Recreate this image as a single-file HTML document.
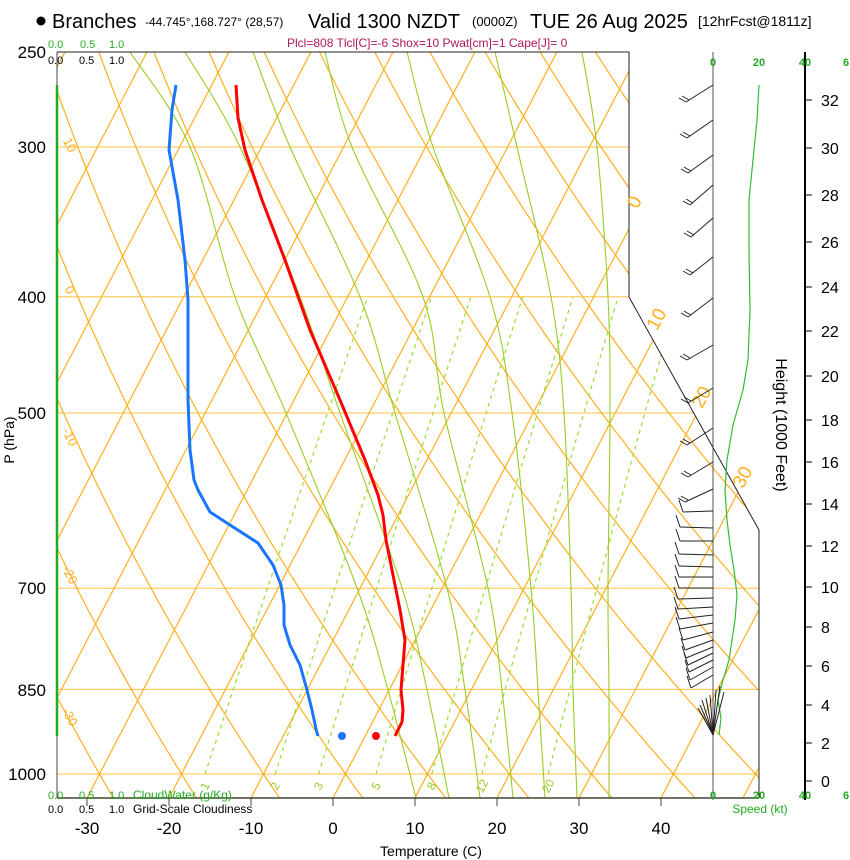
<!DOCTYPE html>
<html><head><meta charset="utf-8"><style>
html,body{margin:0;padding:0;background:#fff;}
svg{display:block;font-family:"Liberation Sans",sans-serif;}
</style></head><body>
<svg id="s" width="850" height="860" viewBox="0 0 850 860" xmlns="http://www.w3.org/2000/svg">
<defs><clipPath id="cp"><polygon points="57,52 629,52 629,297 759,530 759,798 57,798"/></clipPath></defs>
<g id="bg" clip-path="url(#cp)" fill="none"></g>
<g id="fg"></g>
<circle cx="41" cy="21" r="4.5" fill="#000"/>
<text x="52" y="28" font-size="20">Branches</text>
<text x="145" y="26" font-size="12">-44.745°,168.727° (28,57)</text>
<text x="308" y="28" font-size="20">Valid 1300 NZDT</text>
<text x="472" y="26" font-size="13">(0000Z)</text>
<text x="530" y="28" font-size="20">TUE 26 Aug 2025</text>
<text x="698" y="26" font-size="14">[12hrFcst@1811z]</text>
<text x="287" y="47" font-size="12" fill="#b01858">Plcl=808 Tlcl[C]=-6 Shox=10 Pwat[cm]=1 Cape[J]= 0</text>
<g font-size="11">
<text x="48" y="48" fill="#22aa22">0.0</text><text x="80" y="48" fill="#22aa22">0.5</text><text x="109" y="48" fill="#22aa22">1.0</text>
<text x="48" y="64" fill="#000">0.0</text><text x="79" y="64" fill="#000">0.5</text><text x="109" y="64" fill="#000">1.0</text>
<text x="48" y="799" fill="#22aa22">0.0</text><text x="79" y="799" fill="#22aa22">0.5</text><text x="109" y="799" fill="#22aa22">1.0</text>
<text x="133" y="799" fill="#22aa22" font-size="12">CloudWater (g/Kg)</text>
<text x="48" y="813" fill="#000">0.0</text><text x="79" y="813" fill="#000">0.5</text><text x="109" y="813" fill="#000">1.0</text>
<text x="133" y="813" fill="#000" font-size="12">Grid-Scale Cloudiness</text>
</g>
<g font-size="17" text-anchor="end">
<text x="46" y="58">250</text><text x="46" y="153">300</text><text x="46" y="303">400</text>
<text x="46" y="419">500</text><text x="46" y="594">700</text><text x="46" y="696">850</text><text x="46" y="780">1000</text>
</g>
<text transform="translate(14,440) rotate(-90)" font-size="14" text-anchor="middle">P (hPa)</text>
<g font-size="17" text-anchor="middle">
<text x="87" y="834">-30</text><text x="169" y="834">-20</text><text x="251" y="834">-10</text><text x="333" y="834">0</text>
<text x="415" y="834">10</text><text x="497" y="834">20</text><text x="579" y="834">30</text><text x="661" y="834">40</text>
</g>
<text x="431" y="856" font-size="14" text-anchor="middle">Temperature (C)</text>
<g font-size="11" fill="#22aa22" font-weight="bold" text-anchor="middle">
<text x="713" y="66">0</text><text x="759" y="66">20</text><text x="805" y="66">40</text><text x="846" y="66">6</text>
<text x="713" y="799">0</text><text x="759" y="799">20</text><text x="805" y="799">40</text><text x="846" y="799">6</text>
</g>
<text x="760" y="813" font-size="12" fill="#22aa22" text-anchor="middle">Speed (kt)</text>
<text transform="translate(776,425) rotate(90)" font-size="16" text-anchor="middle">Height (1000 Feet)</text>
<g id="hax" font-size="16"></g>
</svg>
<script>
(function(){
var NS="http://www.w3.org/2000/svg";
var bg=document.getElementById('bg'),fg=document.getElementById('fg'),hax=document.getElementById('hax');
function Y(p){return 52+520.8*Math.log(p/250);}
function X(T,y){return 333+8.2*T+0.52*(798-y);}
function el(par,tag,a,txt){var e=document.createElementNS(NS,tag);for(var k in a)e.setAttribute(k,a[k]);if(txt!==undefined)e.textContent=txt;par.appendChild(e);return e;}
function pl(par,pts,a){var s=pts.map(function(q){return q[0].toFixed(1)+','+q[1].toFixed(1);}).join(' ');a.points=s;a.fill='none';return el(par,'polyline',a);}
var OR='#ffb01e';
[250,300,400,500,700,850,1000].forEach(function(p){var y=Y(p);el(bg,'line',{x1:57,y1:y,x2:760,y2:y,stroke:'#ffc040','stroke-width':1});});
for(var T=-120;T<=60;T+=10){var y1=830,y2=20;el(bg,'line',{x1:X(T,y1),y1:y1,x2:X(T,y2),y2:y2,stroke:OR,'stroke-width':1.2});}
for(var th=-60;th<=160;th+=10){var pts=[];for(var p=1060;p>=240;p-=10){var t=(th+273.15)*Math.pow(p/1000,0.2857)-273.15;var y=Y(p);pts.push([X(t,y),y]);}pl(bg,pts,{stroke:OR,'stroke-width':1.2});}
var ys=[798,690,588,413,297,147,52];
var L=[[416,388,357,286,235,190,130],[449,427,402,340,300,240,185],[480,465,447,395,360,290,253],[513,502,488,444,423,352,325],[545,538,531,512,490,433,407],[577,573,571,564,551,517,495],[609,609,608,610,608,597,582]];
L.forEach(function(xs){var pts=xs.map(function(x,i){return [x,ys[i]];});
var s='M'+pts[0][0]+','+pts[0][1];for(var i=0;i<pts.length-1;i++){var p0=pts[Math.max(i-1,0)],p1=pts[i],p2=pts[i+1],p3=pts[Math.min(i+2,pts.length-1)];
s+=' C'+(p1[0]+(p2[0]-p0[0])/6).toFixed(1)+','+(p1[1]+(p2[1]-p0[1])/6).toFixed(1)+' '+(p2[0]-(p3[0]-p1[0])/6).toFixed(1)+','+(p2[1]-(p3[1]-p1[1])/6).toFixed(1)+' '+p2[0]+','+p2[1];}
el(bg,'path',{d:s,stroke:'#99cc22','stroke-width':1.1,fill:'none'});});
[1,2,3,5,8,12,20].forEach(function(w){var pts=[];for(var p=1000;p>=400;p-=20){var e=w*p/(622+w),l=Math.log(e/6.112),t=243.5*l/(17.67-l),y=Y(p);pts.push([X(t,y),y]);}
pl(bg,pts,{stroke:'#99dd33','stroke-width':1.2,'stroke-dasharray':'4,4'});
var x0=pts[0][0];el(fg,'text',{x:x0,y:790,'font-size':12,fill:'#99cc22','text-anchor':'middle',transform:'rotate(-62 '+x0+' 786)'},String(w));});
pl(fg,[[57,52],[629,52],[629,297],[759,530],[759,798]],{stroke:'#222','stroke-width':1});
el(fg,'line',{x1:57,y1:52,x2:57,y2:798,stroke:'#444','stroke-width':1});
el(fg,'line',{x1:57,y1:798,x2:759,y2:798,stroke:'#443',"stroke-width":1.5});
[87,169,251,333,415,497,579,661].forEach(function(x){el(fg,'line',{x1:x,y1:798,x2:x,y2:806,stroke:'#444'});});
el(fg,'line',{x1:57,y1:85,x2:57,y2:736,stroke:'#22aa22','stroke-width':2.5});
[[0,640,205],[10,662,322],[20,707,400],[30,748,480]].forEach(function(a){el(fg,'text',{x:a[1],y:a[2],'font-size':19,fill:'#ffb01e','text-anchor':'middle',transform:'rotate(-62 '+a[1]+' '+a[2]+')'},String(a[0]));});
[[10,66,147],[0,66,292],[-10,66,439],[-20,66,577],[-30,66,719]].forEach(function(a){el(fg,'text',{x:a[1],y:a[2],'font-size':13,fill:'#ffb01e','text-anchor':'middle',transform:'rotate(62 '+a[1]+' '+a[2]+')'},String(a[0]));});
el(fg,'line',{x1:713,y1:52,x2:713,y2:800,stroke:'#555','stroke-width':1});
el(fg,'line',{x1:805,y1:52,x2:805,y2:800,stroke:'#000','stroke-width':2});
[[0,781],[2,743],[4,705],[6,666],[8,627],[10,587],[12,546],[14,504],[16,462],[18,420],[20,376],[22,331],[24,287],[26,242],[28,195],[30,148],[32,100]].forEach(function(a){
el(hax,'line',{x1:805,y1:a[1],x2:812,y2:a[1],stroke:'#000'});el(hax,'text',{x:821,y:a[1]+6},String(a[0]));});
pl(fg,[[759,85],[757,120],[753,160],[749,200],[749,250],[750,310],[748,360],[743,390],[733,425],[727,460],[725,490],[727,520],[730,545],[734,570],[737,595],[735,620],[732,640],[729,660],[723,680],[718,700],[721,718],[719,735]],{stroke:'#33bb33','stroke-width':1.2});
var up=[[85,686,102],[120,687,138],[155,688,173],[185,690,205],[218,691,237],[257,690,275],[298,688,317],[345,687,360],[388,688,403],[428,687,445],[462,688,477],[489,685,502]];
up.forEach(function(b){el(fg,'line',{x1:713,y1:b[0],x2:b[1],y2:b[2],stroke:'#222','stroke-width':1});
el(fg,'line',{x1:b[1],y1:b[2],x2:b[1]-7,y2:b[2]-4,stroke:'#222'});el(fg,'line',{x1:b[1]+3,y1:b[2]-2,x2:b[1]-4,y2:b[2]-6,stroke:'#222'});});
var lo=[[511,683,512],[528,680,527],[541,680,541],[555,679,554],[567,679,566],[577,679,577],[588,679,588],[598,678,599],[607,678,609],[615,679,619],[623,680,629],[632,683,640],[640,685,650],[647,686,658],[653,688,665],[660,689,672],[667,690,680],[675,691,688]];
lo.forEach(function(b){el(fg,'line',{x1:713,y1:b[0],x2:b[1],y2:b[2],stroke:'#222','stroke-width':1});el(fg,'line',{x1:b[1],y1:b[2],x2:b[1]-4,y2:b[2]-12,stroke:'#222'});});
[[700,705],[698,708],[702,700],[706,698],[716,690],[720,686],[724,692],[710,695]].forEach(function(b){el(fg,'line',{x1:713,y1:735,x2:b[0],y2:b[1],stroke:'#222'});});
pl(fg,[[236,85],[238,118],[245,150],[262,200],[285,260],[310,330],[340,400],[365,460],[378,495],[383,515],[386,540],[393,575],[400,610],[405,640],[403,665],[401,690],[403,710],[402,722],[397,732],[395,736]],{stroke:'#ff0000','stroke-width':3,'stroke-linejoin':'round'});
pl(fg,[[176,85],[172,110],[169,150],[178,200],[185,260],[188,300],[188,350],[188,400],[190,450],[194,480],[198,490],[210,512],[230,525],[258,543],[273,565],[281,585],[284,605],[284,625],[290,645],[300,665],[307,690],[312,710],[316,729],[318,736]],{stroke:'#1a75ff','stroke-width':3,'stroke-linejoin':'round'});
el(fg,'circle',{cx:342,cy:736,r:4,fill:'#1a75ff'});el(fg,'circle',{cx:376,cy:736,r:4,fill:'#ff0000'});
})();
</script>
</body></html>
